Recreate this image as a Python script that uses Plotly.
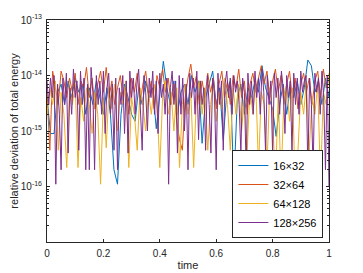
import numpy as np
import plotly.graph_objects as go

# values in units of 1e-15 (relative deviation of total energy)
UNIT = 1e-15

labels = ["16×32", "32×64", "64×128", "128×256"]
colors = ["#0072BD", "#D95319", "#EDB120", "#7E2F8E"]

v16x32 = [4, 0.9, 0.9, 5, 7, 3, 8, 4, 9, 5,
          7, 2, 6, 3, 8, 4, 2, 6, 2, 0.2,
          0.11, 2, 7, 4, 2, 1.5, 6, 3, 8, 4,
          6, 1.1, 5, 18, 6, 3, 8, 2, 5, 7,
          3, 10, 5, 8, 0.6, 4, 7, 12, 3, 6,
          0.7, 5, 8, 0.11, 4, 7, 2, 6, 4, 8,
          5, 15, 6, 4, 2.5, 0.8, 3, 7, 2, 6,
          4, 8, 3, 6, 19, 15, 5, 8, 3, 9,
          4]

v32x64 = [5, 0.45, 12, 6, 3, 12, 8, 4, 9, 5,
          11, 3, 8, 6, 14, 4, 9, 2.5, 7, 12,
          5, 14, 4, 8, 3, 6, 10, 4, 7, 2,
          9, 5, 11, 3, 7, 12, 4, 8, 2.5, 10,
          6, 13, 5, 9, 3, 7, 1.5, 0.7, 0.45, 4,
          9, 16, 6, 10, 3, 8, 4, 11, 5, 9,
          2.5, 7, 12, 4, 8, 3, 10, 6, 13, 4,
          8, 2, 7, 11, 5, 9, 15, 7, 12, 4,
          8, 13, 5, 10, 3, 7, 12, 4, 9, 2.5,
          7, 11, 5, 9, 3, 8, 12, 4, 13, 6,
          9]

v64x128 = [2, 6, 3, 8, 0.45, 5, 2, 0.22, 6, 3,
           7, 0.22, 4, 1.5, 6, 3, 0.9, 5, 2, 0.11,
           4, 0.5, 6, 2.5, 7, 1, 5, 3, 8, 0.22,
           4, 2, 0.45, 6, 3, 1, 5, 2, 7, 3,
           0.22, 4, 8, 2, 5, 1, 6, 0.22, 3, 7,
           2, 5, 0.22, 4, 8, 2, 6, 0.45, 3, 7,
           1.5, 5, 2.5, 9, 3, 0.45, 6, 2, 7, 1,
           4, 0.45, 6, 2, 8, 0.22, 5, 3, 0.22, 6,
           2, 0.1, 5, 0.12, 4, 7, 1.5, 6, 0.12, 0.45,
           5, 2, 8, 0.45, 4, 2, 7, 0.12, 5, 3,
           11]

v128x256 = [8, 3, 9, 4, 10, 0.11, 7, 2, 0.2, 9,
            3, 11, 0.4, 6, 2, 13, 4, 8, 0.45, 12,
            3, 9, 0.2, 7, 0.2, 14, 5, 0.2, 10, 3,
            8, 2, 12, 0.9, 6, 11, 2, 7, 0.45, 9,
            0.2, 6, 3, 10, 0.9, 8, 0.4, 12, 4, 9,
            2, 7, 13, 3, 0.45, 10, 5, 1, 9, 4,
            12, 2, 8, 0.9, 11, 4, 7, 2, 9, 0.11,
            6, 12, 3, 8, 0.4, 10, 2, 9, 1, 7,
            0.2, 11, 4, 9, 2, 12, 0.7, 8, 3, 6,
            0.45, 10, 3, 0.4, 9, 5, 0.2, 11, 3, 8,
            0.45, 7, 12, 4, 9, 2, 10, 5, 8, 3,
            0.4, 9, 5, 0.2, 11, 3, 8, 2, 12, 4,
            9, 2, 13, 5, 0.4, 10, 3, 8, 0.4, 11,
            4, 9, 2, 12, 6, 0.9, 10, 4, 8, 0.4,
            11, 3, 9, 2, 12, 5, 8, 10, 0.2, 9,
            3, 0.2, 11, 5, 9, 2, 12, 4, 0.2, 10,
            0.1]

series = [v16x32, v32x64, v64x128, v128x256]

fig = go.Figure()
for name, col, vals in zip(labels, colors, series):
    t = np.linspace(0, 1, len(vals))
    fig.add_trace(go.Scatter(x=t, y=np.array(vals) * UNIT, mode="lines",
                             name=name, line=dict(color=col, width=1)))

minor_y = [k * 10.0 ** e for e in range(-17, -13) for k in range(2, 10)]
axcol = "#262626"
font = "Liberation Sans, Arial, Helvetica, sans-serif"

# page body has an 8px margin, so the figure is drawn 8px right/down
fig.update_layout(
    width=355, height=265,
    margin=dict(l=39, r=34, t=12, b=31),
    paper_bgcolor="white", plot_bgcolor="white",
    font=dict(family=font, size=10, color=axcol),
    showlegend=True,
    legend=dict(x=0.98, y=0.018, xanchor="right", yanchor="bottom",
                bgcolor="white", bordercolor=axcol, borderwidth=1,
                font=dict(size=11, color="black"), tracegroupgap=0,
                itemwidth=30),
)
fig.update_xaxes(range=[0, 1], tickvals=[0, 0.2, 0.4, 0.6, 0.8, 1],
                 ticktext=["0", "0.2", "0.4", "0.6", "0.8", "1"],
                 ticks="inside", ticklen=3, tickcolor=axcol, ticklabelstandoff=2,
                 showline=True, linecolor=axcol, linewidth=1, mirror="ticks",
                 showgrid=False, zeroline=False, automargin=False,
                 title=dict(text="time", font=dict(size=11), standoff=3))
fig.update_yaxes(type="log", range=[-17, -13],
                 tickvals=[1e-16, 1e-15, 1e-14, 1e-13],
                 ticktext=["10<sup>-16</sup>", "10<sup>-15</sup>", "10<sup>-14</sup>", "10<sup>-13</sup>"],
                 ticks="inside", ticklen=3, tickcolor=axcol, ticklabelstandoff=2,
                 minor=dict(tickvals=minor_y, ticks="inside", ticklen=2, tickcolor=axcol),
                 showline=True, linecolor=axcol, linewidth=1, mirror="ticks",
                 showgrid=False, zeroline=False, automargin=False,
                 title=dict(text="relative deviation of total energy", font=dict(size=11), standoff=2))

fig.write_html("out.html")
